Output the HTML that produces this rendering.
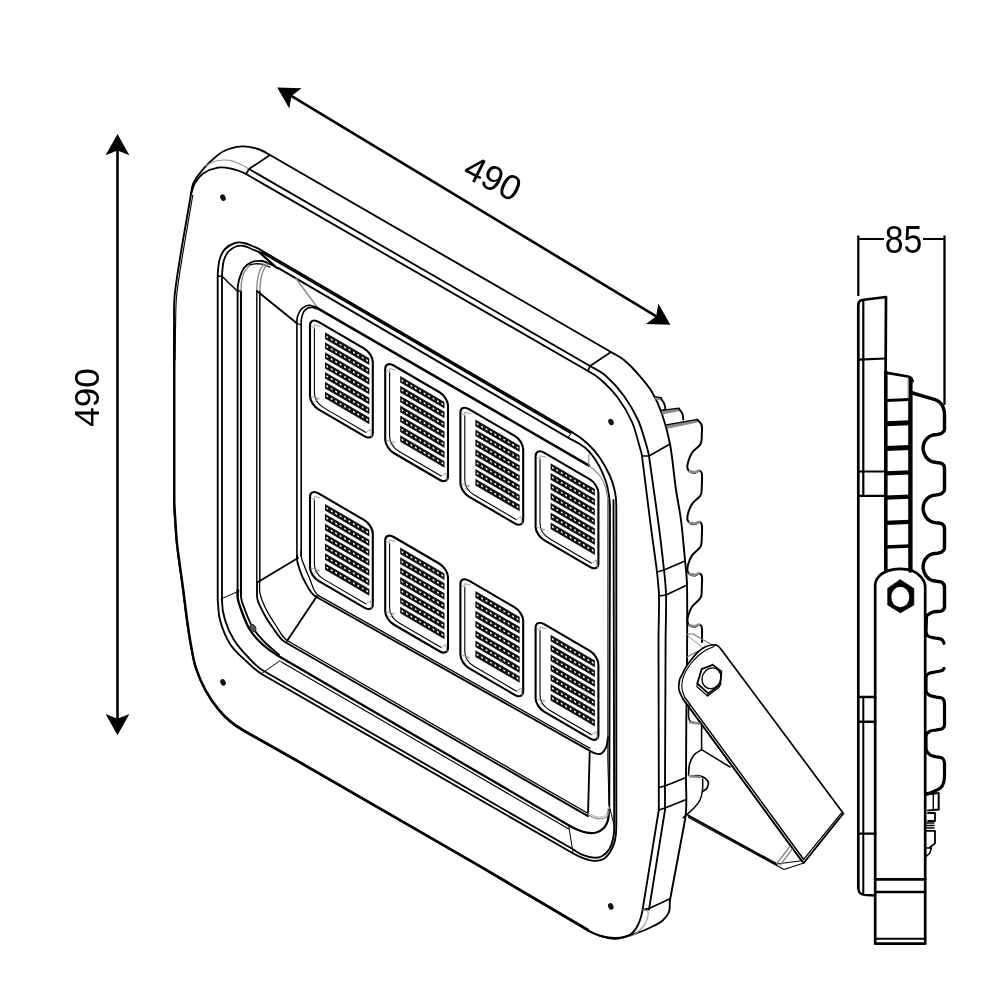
<!DOCTYPE html>
<html><head><meta charset="utf-8"><title>LED floodlight dimensions</title>
<style>
html,body{margin:0;padding:0;background:#fff;}
body{width:1001px;height:1001px;overflow:hidden;font-family:"Liberation Sans",sans-serif;}
svg{display:block;}
text{font-family:"Liberation Sans",sans-serif;fill:#000;}
svg{filter:grayscale(1);}
</style></head><body>
<svg width="1001" height="1001" viewBox="0 0 1001 1001" fill="none" stroke-linecap="round" stroke-linejoin="round">
<rect x="0" y="0" width="1001" height="1001" fill="#fff" stroke="none"/>
<path d="M117.5 150.0L117.5 719.0" stroke="#000" stroke-width="2.6" stroke-linecap="butt"/>
<path d="M117.5 134.0 L129.4 155.3 L117.5 150.6 L105.6 155.3 Z" fill="#000" stroke="none"/>
<path d="M117.5 735.3 L105.6 714.0 L117.5 718.7 L129.4 714.0 Z" fill="#000" stroke="none"/>
<text x="0" y="0" font-size="35.2" text-anchor="middle" stroke="none" transform="translate(99.3,397.5) rotate(-90)">490</text>
<path d="M289.2 94.6L658.4 317.6" stroke="#000" stroke-width="2.6" stroke-linecap="butt"/>
<path d="M277.2 87.4 L301.6 88.2 L291.4 96.0 L289.3 108.6 Z" fill="#000" stroke="none"/>
<path d="M670.4 324.8 L646.0 324.0 L656.2 316.2 L658.3 303.6 Z" fill="#000" stroke="none"/>
<text x="0" y="0" font-size="35.2" text-anchor="middle" stroke="none" transform="translate(487.3,189.0) rotate(27)">490</text>
<path d="M858.3 235.5L858.3 296.0" stroke="#000" stroke-width="2.3" stroke-linecap="butt"/>
<path d="M944.5 235.5L944.5 405.0" stroke="#000" stroke-width="2.3" stroke-linecap="butt"/>
<path d="M858.3 239.0L884.0 239.0" stroke="#000" stroke-width="2.0" stroke-linecap="butt"/>
<path d="M923.0 239.0L944.5 239.0" stroke="#000" stroke-width="2.0" stroke-linecap="butt"/>
<text x="903.6" y="252.6" font-size="39.5" text-anchor="middle" stroke="none" textLength="37.6" lengthAdjust="spacingAndGlyphs">85</text>
<path d="M174.0 330.0L174.0 500.0C174.0 506.7 174.6 513.3 175.0 520.0C175.6 528.7 176.0 537.4 177.0 546.0C178.7 560.7 181.1 575.3 183.0 590.0C184.3 600.0 185.4 610.0 186.8 620.0C188.0 628.6 189.2 637.1 190.8 645.6C192.2 653.1 193.3 660.7 195.6 668.0C198.1 675.7 201.4 683.2 205.2 690.3C208.9 697.1 213.2 703.5 218.0 709.5C221.7 714.2 226.1 718.5 230.7 722.3C235.1 726.0 240.1 729.1 245.1 731.9L300.0 763.0L480.0 866.8L587.7 930.5C591.8 932.9 596.3 934.7 600.9 936.0C605.8 937.4 610.9 939.2 616.0 938.7C623.6 938.0 630.8 935.1 638.0 932.7C642.6 931.2 647.0 929.1 651.4 927.0C655.2 925.1 659.2 923.4 662.4 920.7C665.2 918.3 667.7 915.4 669.0 912.0C670.4 908.2 669.3 903.9 670.0 900.0L685.0 820.0C687.6 805.9 685.8 791.3 686.0 777.0C686.2 758.0 686.1 739.0 686.3 720.0C686.5 701.3 686.9 682.7 687.0 664.0C687.1 637.3 687.5 610.7 687.0 584.0C686.8 576.0 685.7 568.0 685.0 560.0C683.7 546.7 682.7 533.3 681.0 520.0C679.7 509.9 677.5 500.0 676.0 490.0C673.8 474.7 672.8 459.2 670.0 444.0C668.1 433.8 665.4 423.8 662.0 414.0C659.4 406.4 656.1 398.9 652.0 392.0C648.1 385.5 643.0 379.7 638.0 374.0C633.7 369.0 629.1 364.2 624.0 360.0C620.1 356.8 615.4 354.5 611.0 352.0L270.0 155.0C266.1 152.8 262.3 150.3 258.0 149.0C252.8 147.4 247.4 146.1 242.0 146.4C235.8 146.8 229.6 148.3 224.0 151.0C218.7 153.6 214.4 158.0 210.0 162.0C206.3 165.3 203.0 169.1 200.0 173.0C197.3 176.4 194.7 180.0 193.0 184.0C191.7 187.1 191.6 190.6 191.0 194.0C185.6 226.6 179.1 259.2 175.0 292.0C173.4 304.6 174.3 317.3 174.0 330.0" stroke="#000" stroke-width="1.9" />
<path d="M174.3 330.0L174.3 500.0C174.3 506.7 174.9 513.3 175.3 520.0C175.9 528.7 176.3 537.4 177.3 546.0C179.0 560.7 181.4 575.3 183.3 590.0C184.6 600.0 185.7 610.0 187.1 620.0C188.3 628.6 189.5 637.1 191.1 645.6C192.5 653.1 193.6 660.7 196.0 668.0C198.5 675.6 201.7 683.0 205.5 690.0C209.1 696.7 213.5 703.0 218.3 709.0C222.1 713.7 226.4 718.0 231.0 721.8C235.4 725.5 240.4 728.5 245.4 731.3L300.3 762.4L480.3 866.2L588.0 929.9" stroke="#000" stroke-width="2.4" />
<path d="M192.8 195.0C187.5 227.3 181.2 259.5 177.0 292.0C175.4 304.6 175.9 317.3 175.5 330.0C175.2 340.0 175.2 350.0 175.0 360.0" stroke="#000" stroke-width="1.1" />
<path d="M191.0 194.0C192.3 190.3 192.9 186.3 195.0 183.0C197.4 179.2 200.3 175.5 204.0 173.0C208.2 170.2 213.1 168.5 218.0 167.6C221.9 166.9 226.1 167.5 230.0 168.4C235.5 169.7 241.1 171.2 246.0 174.0L588.0 371.0C592.2 373.4 596.4 375.8 600.0 379.0C606.5 384.8 612.8 391.0 618.0 398.0C623.5 405.4 628.3 413.5 632.0 422.0C635.7 430.3 637.4 439.3 640.0 448.0C640.8 450.6 641.7 453.3 642.0 456.0L650.0 520.0C652.2 537.4 654.9 554.6 657.0 572.0C657.9 580.0 658.8 588.0 659.0 596.0C659.3 610.7 658.5 625.3 658.5 640.0L658.8 787.5L658.8 810.0L642.6 909.7C641.7 915.0 640.4 920.3 638.0 925.0C636.0 928.9 633.3 932.8 629.5 935.0C625.5 937.3 620.6 937.8 616.0 938.0C610.9 938.2 605.8 937.3 600.9 936.0C596.3 934.8 592.1 932.3 587.7 930.5" stroke="#000" stroke-width="1.85" />
<path d="M249.0 169.0L590.0 366.0C595.4 369.1 601.3 371.8 606.0 376.0C612.7 381.9 618.7 388.7 624.0 396.0C629.4 403.5 634.1 411.6 638.0 420.0C641.5 427.7 643.5 435.9 646.0 444.0C647.2 447.9 648.4 451.9 649.0 456.0L658.0 520.0C660.3 536.6 662.2 553.3 664.0 570.0C664.9 578.0 665.8 586.0 666.0 594.0C666.4 609.3 665.7 624.7 665.6 640.0L665.0 787.0L665.0 810.0L649.0 909.7" stroke="#000" stroke-width="1.85" />
<path d="M246.0 174.0L249.0 169.0L270.0 155.0" stroke="#000" stroke-width="1.7" />
<path d="M588.0 371.0L590.0 366.0L611.0 352.0" stroke="#000" stroke-width="1.7" />
<path d="M642.0 456.0L649.0 456.0L670.0 444.0" stroke="#000" stroke-width="1.7" />
<path d="M657.0 572.0L664.0 570.0L685.0 561.0" stroke="#000" stroke-width="1.7" />
<path d="M659.0 596.0L666.0 595.0L687.0 585.0" stroke="#000" stroke-width="1.7" />
<path d="M658.8 787.5L665.0 786.0L686.0 777.5" stroke="#000" stroke-width="1.7" />
<path d="M658.8 810.0L665.0 808.0L685.0 800.0" stroke="#000" stroke-width="1.7" />
<path d="M642.6 909.7L649.0 908.6L670.0 898.7" stroke="#000" stroke-width="1.7" />
<path d="M205.0 166.0C208.7 164.3 212.1 161.9 216.0 161.0C220.6 160.0 225.4 159.6 230.0 160.4C234.9 161.3 239.4 163.9 244.0 166.0C245.4 166.6 246.7 167.7 248.0 168.5" stroke="#999" stroke-width="1.1" />
<path d="M642.6 909.7C644.4 910.3 647.5 909.7 648.0 911.5C648.9 914.9 647.5 918.8 646.0 922.0C644.4 925.5 641.7 928.4 639.0 931.0C636.9 933.1 634.1 934.3 631.6 936.0" stroke="#999" stroke-width="1.1" />
<ellipse cx="223.0" cy="197.6" rx="2.6" ry="3.4" fill="#111" stroke="none" transform="rotate(-25 223.0 197.6)"/>
<ellipse cx="611.0" cy="422.0" rx="2.6" ry="3.4" fill="#111" stroke="none" transform="rotate(-25 611.0 422.0)"/>
<ellipse cx="223.0" cy="682.4" rx="2.6" ry="3.4" fill="#111" stroke="none" transform="rotate(-25 223.0 682.4)"/>
<ellipse cx="610.8" cy="906.4" rx="2.6" ry="3.4" fill="#111" stroke="none" transform="rotate(-25 610.8 906.4)"/>
<path d="M217.7 600.0L217.7 276.0C217.7 273.3 217.9 270.7 218.2 268.0C218.6 264.6 218.9 261.2 220.0 258.0C221.2 254.8 222.6 251.4 225.0 249.0C227.7 246.3 231.3 244.2 235.0 243.0C237.9 242.1 241.1 242.4 244.0 243.0C247.8 243.8 251.4 245.7 255.0 247.2L258.0 248.4L572.0 432.1C577.7 435.5 583.1 439.5 588.0 444.0C592.5 448.2 596.5 452.9 600.0 458.0C603.9 463.7 607.2 469.7 610.0 476.0C612.3 481.1 613.9 486.5 615.0 492.0C616.0 496.6 616.3 501.3 616.3 506.0L616.3 826.0C616.3 830.8 616.0 835.6 615.0 840.3C614.2 844.1 612.7 847.7 610.7 851.0C608.8 854.1 606.6 857.2 603.5 859.0C600.7 860.6 597.2 861.1 594.0 860.9C589.9 860.7 585.9 859.1 582.0 857.7C578.7 856.5 575.5 854.8 572.4 853.0L262.0 674.2C256.0 670.8 251.0 665.7 246.0 661.0C240.3 655.7 234.2 650.6 230.0 644.0C225.4 636.7 222.3 628.3 220.0 620.0C218.2 613.5 218.5 606.7 217.7 600.0" stroke="#000" stroke-width="1.85" />
<path d="M222.0 600.0L222.0 276.5C222.0 273.7 222.3 270.8 222.6 268.0C222.9 265.3 223.1 262.6 224.0 260.0C225.0 257.2 226.0 254.2 228.0 252.0C230.1 249.6 233.0 247.6 236.0 246.5C238.5 245.6 241.4 245.5 244.0 246.0C247.5 246.7 250.7 248.7 254.0 250.0C256.7 251.1 259.3 252.1 262.0 253.2" stroke="#000" stroke-width="1.85" />
<path d="M262.0 252.6L570.0 432.8" stroke="#000" stroke-width="1.85" />
<path d="M278.0 267.9L568.0 437.6C574.1 441.1 580.7 443.9 586.0 448.5C590.9 452.8 594.7 458.4 598.0 464.0C601.4 469.6 603.9 475.8 606.0 482.0C607.6 486.5 608.3 491.3 609.0 496.0C609.6 500.0 610.0 504.0 610.0 508.0L609.3 806.0" stroke="#000" stroke-width="1.85" />
<path d="M608.0 500.0L607.8 760.0L609.0 804.0" stroke="#000" stroke-width="1.0" />
<path d="M259.0 252.0L275.5 266.8" stroke="#000" stroke-width="2.2" />
<path d="M572.0 432.1L568.0 437.6" stroke="#000" stroke-width="1.0" />
<path d="M222.0 600.0L222.0 601.0C222.0 607.4 223.1 613.9 225.0 620.0C227.1 627.0 230.1 633.8 234.0 640.0C237.9 646.2 242.9 651.7 248.0 657.0C252.6 661.9 257.2 667.1 263.0 670.5L573.0 849.3C576.0 851.1 578.8 853.4 582.0 854.7C585.8 856.2 589.9 857.4 594.0 857.7C596.8 857.9 599.9 857.4 602.3 856.0C605.3 854.3 607.7 851.6 609.5 848.7C611.3 845.8 612.3 842.4 613.0 839.0C613.9 835.1 614.2 831.0 614.2 827.0L613.5 500.0" stroke="#000" stroke-width="1.85" />
<path d="M609.5 806.8L614.3 826.0" stroke="#000" stroke-width="1.0" />
<path d="M221.0 599.0L239.0 591.0" stroke="#000" stroke-width="1.0" />
<path d="M262.0 673.2L280.0 660.7" stroke="#000" stroke-width="1.0" />
<path d="M217.7 276.0L222.3 276.5L237.2 291.0L240.5 291.0" stroke="#000" stroke-width="1.4" />
<path d="M237.6 596.0L237.6 290.0C237.6 286.6 238.1 283.2 239.0 280.0C240.2 275.8 241.5 271.5 244.0 268.0C246.0 265.3 248.9 263.2 252.0 262.0C255.1 260.8 258.7 260.6 262.0 261.0C264.8 261.3 267.4 262.8 270.0 264.0C272.8 265.3 275.3 267.0 278.0 268.5" stroke="#000" stroke-width="1.85" />
<path d="M241.0 594.0L241.0 291.0" stroke="#000" stroke-width="2.1" />
<path d="M241.0 291.0C241.2 288.0 241.1 285.0 241.6 282.0C242.2 278.6 242.8 275.1 244.3 272.0C245.6 269.2 248.1 267.2 250.0 264.8" stroke="#888" stroke-width="1.4" />
<path d="M250.0 264.8C251.7 264.5 253.3 263.9 255.0 263.8C257.3 263.7 259.7 263.7 262.0 264.2C264.8 264.8 267.3 266.1 270.0 267.0" stroke="#000" stroke-width="1.3" />
<path d="M237.6 590.0L237.6 596.0C237.6 601.5 240.1 606.8 242.0 612.0C244.2 618.2 246.5 624.4 250.0 630.0C253.3 635.2 257.5 639.8 262.0 644.0C266.9 648.5 272.3 652.3 278.0 655.7L570.0 825.9C572.3 827.2 574.6 828.5 577.0 829.5C580.2 830.8 583.3 832.2 586.7 832.7C589.9 833.2 593.2 833.3 596.3 832.5C599.0 831.8 601.5 830.3 603.5 828.3C605.5 826.3 606.9 823.7 607.7 821.0C608.8 817.5 608.6 813.7 609.0 810.0" stroke="#000" stroke-width="2.3" />
<path d="M241.0 590.0L241.0 596.0C241.0 600.9 243.3 605.5 245.0 610.0C247.3 616.1 249.6 622.4 253.0 628.0C256.0 633.0 259.9 637.3 264.0 641.5C268.6 646.3 274.0 650.3 279.0 654.7" stroke="#000" stroke-width="1.85" />
<path d="M281.0 661.7L568.8 828.9" stroke="#000" stroke-width="1.1" />
<path d="M568.8 826.5L573.0 852.3" stroke="#000" stroke-width="1.0" />
<ellipse cx="253" cy="628" rx="2.6" ry="4" fill="#555" stroke="#222" stroke-width="0.8" transform="rotate(-25 253 628)"/>
<path d="M256.8 582.0L256.8 291.0" stroke="#000" stroke-width="1.4" />
<path d="M256.8 291.0C257.0 287.3 256.9 283.6 257.5 280.0C258.0 276.6 258.7 273.2 260.0 270.0C260.9 267.8 262.7 266.0 264.0 264.0" stroke="#888" stroke-width="1.4" />
<path d="M259.8 582.0L259.8 291.0" stroke="#000" stroke-width="1.5" />
<path d="M259.8 291.0C260.2 286.7 260.2 282.3 261.0 278.0C261.6 274.9 262.6 271.8 264.0 269.0C265.0 267.1 266.7 265.7 268.0 264.0" stroke="#888" stroke-width="1.4" />
<path d="M257.0 582.0L257.0 596.0C257.0 601.7 260.5 606.9 263.0 612.0C265.8 617.6 269.3 622.9 273.0 628.0C276.6 633.0 279.7 639.0 285.0 642.0L588.0 816.1" stroke="#000" stroke-width="1.85" />
<path d="M259.6 582.0L259.6 590.0C259.6 595.9 262.5 601.6 265.0 607.0C267.7 613.0 271.3 618.6 275.0 624.0C279.0 629.9 281.8 637.4 288.0 641.0L587.0 812.8" stroke="#000" stroke-width="1.3" />
<path d="M589.7 752.5L588.0 814.6" stroke="#000" stroke-width="1.85" />
<path d="M588.0 814.6C590.0 815.6 591.9 816.9 594.0 817.6C596.3 818.3 598.6 819.0 601.0 818.8C603.1 818.6 605.6 818.0 607.0 816.4C608.5 814.7 608.3 812.1 609.0 810.0" stroke="#888" stroke-width="1.1" />
<path d="M588.0 813.0C590.0 814.0 591.9 815.3 594.0 816.0C596.3 816.7 598.7 817.3 601.0 817.0C602.8 816.8 604.9 816.0 606.0 814.5C607.4 812.7 607.3 810.2 608.0 808.0" stroke="#aaa" stroke-width="0.9" />
<path d="M257.0 291.0L296.5 323.0" stroke="#000" stroke-width="1.85" />
<path d="M258.0 582.0L298.0 558.0" stroke="#000" stroke-width="1.85" />
<path d="M287.0 641.0L317.0 596.0" stroke="#000" stroke-width="1.85" />
<path d="M296.0 278.5L317.0 307.0" stroke="#888" stroke-width="1.4" />
<path d="M296.9 558.0L296.9 322.8C296.9 320.7 296.9 318.5 297.5 316.5C298.3 314.0 299.4 311.5 301.0 309.5C302.3 307.9 304.1 306.8 305.9 306.0C307.2 305.4 308.6 305.2 310.0 305.3C311.7 305.5 313.4 306.3 315.0 306.9L318.0 308.0" stroke="#000" stroke-width="1.6" />
<path d="M316.0 307.3L589.0 465.6" stroke="#000" stroke-width="2.5" />
<path d="M301.2 556.0L301.2 324.2C301.2 322.3 301.1 320.4 301.5 318.6C302.0 316.2 302.5 313.7 303.8 311.6C304.8 310.0 306.4 308.8 308.0 308.0C309.3 307.4 310.8 307.3 312.2 307.4C313.7 307.5 315.0 308.3 316.4 308.8" stroke="#000" stroke-width="1.6" />
<path d="M296.0 323.0L301.3 325.0" stroke="#000" stroke-width="1.2" />
<path d="M296.9 556.0L296.9 558.0C296.9 560.7 297.7 563.4 298.5 566.0C300.0 570.8 301.5 575.6 304.0 580.0C307.4 586.0 310.0 593.4 316.0 596.8L590.0 750.9C593.0 752.6 596.6 754.7 600.0 754.0C602.9 753.4 604.7 750.2 606.0 747.5C607.5 744.4 607.3 740.8 608.0 737.5" stroke="#000" stroke-width="1.85" />
<path d="M301.2 550.0L301.2 556.0C301.2 559.1 302.9 562.1 304.0 565.0C305.5 569.1 307.1 573.1 309.0 577.0C312.1 583.4 312.8 592.4 319.0 595.9L590.0 748.3" stroke="#000" stroke-width="1.3" />
<path d="M589.0 454.0C589.0 457.9 588.2 461.8 589.0 465.6C589.3 466.9 591.1 467.1 592.0 468.0C594.7 470.6 597.8 472.9 600.0 476.0C602.2 479.0 603.8 482.5 605.0 486.0C606.5 490.5 607.0 495.3 608.0 500.0" stroke="#888" stroke-width="1.1" />
<g transform="matrix(1 0.585 0 1 310.0 316.9)"><rect x="0" y="0" width="62.8" height="87.5" rx="8.5" ry="8.5" stroke="#000" stroke-width="2.1" vector-effect="non-scaling-stroke"/><path d="M4.4 9 L4.4 73 Q4.4 82.8 14 82.8 L56 82.8" stroke="#000" stroke-width="1.1" vector-effect="non-scaling-stroke"/><path d="M1 8 L4.4 9.5 L4.4 5.5 L10 3.5 M1 79 L9 76.5 M4.4 82.5 L9 76.5 M56 82.8 L60.5 77 L62 84" stroke="#999" stroke-width="0.9" vector-effect="non-scaling-stroke"/><line x1="15.0" y1="10.00" x2="59.3" y2="10.00" stroke="#111" stroke-width="6.6" stroke-linecap="butt"/><line x1="16.4" y1="10.00" x2="59.5" y2="10.00" stroke="#fff" stroke-width="1.7" stroke-dasharray="1.7 2.73" stroke-linecap="butt"/><line x1="15.0" y1="19.88" x2="59.3" y2="19.88" stroke="#111" stroke-width="6.6" stroke-linecap="butt"/><line x1="16.4" y1="19.88" x2="59.5" y2="19.88" stroke="#fff" stroke-width="1.7" stroke-dasharray="1.7 2.73" stroke-linecap="butt"/><line x1="15.0" y1="29.76" x2="59.3" y2="29.76" stroke="#111" stroke-width="6.6" stroke-linecap="butt"/><line x1="16.4" y1="29.76" x2="59.5" y2="29.76" stroke="#fff" stroke-width="1.7" stroke-dasharray="1.7 2.73" stroke-linecap="butt"/><line x1="15.0" y1="39.64" x2="59.3" y2="39.64" stroke="#111" stroke-width="6.6" stroke-linecap="butt"/><line x1="16.4" y1="39.64" x2="59.5" y2="39.64" stroke="#fff" stroke-width="1.7" stroke-dasharray="1.7 2.73" stroke-linecap="butt"/><line x1="15.0" y1="49.52" x2="59.3" y2="49.52" stroke="#111" stroke-width="6.6" stroke-linecap="butt"/><line x1="16.4" y1="49.52" x2="59.5" y2="49.52" stroke="#fff" stroke-width="1.7" stroke-dasharray="1.7 2.73" stroke-linecap="butt"/><line x1="15.0" y1="59.40" x2="59.3" y2="59.40" stroke="#111" stroke-width="6.6" stroke-linecap="butt"/><line x1="16.4" y1="59.40" x2="59.5" y2="59.40" stroke="#fff" stroke-width="1.7" stroke-dasharray="1.7 2.73" stroke-linecap="butt"/><line x1="15.0" y1="69.28" x2="59.3" y2="69.28" stroke="#111" stroke-width="6.6" stroke-linecap="butt"/><line x1="16.4" y1="69.28" x2="59.5" y2="69.28" stroke="#fff" stroke-width="1.7" stroke-dasharray="1.7 2.73" stroke-linecap="butt"/></g>
<g transform="matrix(1 0.585 0 1 385.2 360.5)"><rect x="0" y="0" width="62.8" height="87.5" rx="8.5" ry="8.5" stroke="#000" stroke-width="2.1" vector-effect="non-scaling-stroke"/><path d="M4.4 9 L4.4 73 Q4.4 82.8 14 82.8 L56 82.8" stroke="#000" stroke-width="1.1" vector-effect="non-scaling-stroke"/><path d="M1 8 L4.4 9.5 L4.4 5.5 L10 3.5 M1 79 L9 76.5 M4.4 82.5 L9 76.5 M56 82.8 L60.5 77 L62 84" stroke="#999" stroke-width="0.9" vector-effect="non-scaling-stroke"/><line x1="15.0" y1="10.00" x2="59.3" y2="10.00" stroke="#111" stroke-width="6.6" stroke-linecap="butt"/><line x1="16.4" y1="10.00" x2="59.5" y2="10.00" stroke="#fff" stroke-width="1.7" stroke-dasharray="1.7 2.73" stroke-linecap="butt"/><line x1="15.0" y1="19.88" x2="59.3" y2="19.88" stroke="#111" stroke-width="6.6" stroke-linecap="butt"/><line x1="16.4" y1="19.88" x2="59.5" y2="19.88" stroke="#fff" stroke-width="1.7" stroke-dasharray="1.7 2.73" stroke-linecap="butt"/><line x1="15.0" y1="29.76" x2="59.3" y2="29.76" stroke="#111" stroke-width="6.6" stroke-linecap="butt"/><line x1="16.4" y1="29.76" x2="59.5" y2="29.76" stroke="#fff" stroke-width="1.7" stroke-dasharray="1.7 2.73" stroke-linecap="butt"/><line x1="15.0" y1="39.64" x2="59.3" y2="39.64" stroke="#111" stroke-width="6.6" stroke-linecap="butt"/><line x1="16.4" y1="39.64" x2="59.5" y2="39.64" stroke="#fff" stroke-width="1.7" stroke-dasharray="1.7 2.73" stroke-linecap="butt"/><line x1="15.0" y1="49.52" x2="59.3" y2="49.52" stroke="#111" stroke-width="6.6" stroke-linecap="butt"/><line x1="16.4" y1="49.52" x2="59.5" y2="49.52" stroke="#fff" stroke-width="1.7" stroke-dasharray="1.7 2.73" stroke-linecap="butt"/><line x1="15.0" y1="59.40" x2="59.3" y2="59.40" stroke="#111" stroke-width="6.6" stroke-linecap="butt"/><line x1="16.4" y1="59.40" x2="59.5" y2="59.40" stroke="#fff" stroke-width="1.7" stroke-dasharray="1.7 2.73" stroke-linecap="butt"/><line x1="15.0" y1="69.28" x2="59.3" y2="69.28" stroke="#111" stroke-width="6.6" stroke-linecap="butt"/><line x1="16.4" y1="69.28" x2="59.5" y2="69.28" stroke="#fff" stroke-width="1.7" stroke-dasharray="1.7 2.73" stroke-linecap="butt"/></g>
<g transform="matrix(1 0.585 0 1 460.4 404.1)"><rect x="0" y="0" width="62.8" height="87.5" rx="8.5" ry="8.5" stroke="#000" stroke-width="2.1" vector-effect="non-scaling-stroke"/><path d="M4.4 9 L4.4 73 Q4.4 82.8 14 82.8 L56 82.8" stroke="#000" stroke-width="1.1" vector-effect="non-scaling-stroke"/><path d="M1 8 L4.4 9.5 L4.4 5.5 L10 3.5 M1 79 L9 76.5 M4.4 82.5 L9 76.5 M56 82.8 L60.5 77 L62 84" stroke="#999" stroke-width="0.9" vector-effect="non-scaling-stroke"/><line x1="15.0" y1="10.00" x2="59.3" y2="10.00" stroke="#111" stroke-width="6.6" stroke-linecap="butt"/><line x1="16.4" y1="10.00" x2="59.5" y2="10.00" stroke="#fff" stroke-width="1.7" stroke-dasharray="1.7 2.73" stroke-linecap="butt"/><line x1="15.0" y1="19.88" x2="59.3" y2="19.88" stroke="#111" stroke-width="6.6" stroke-linecap="butt"/><line x1="16.4" y1="19.88" x2="59.5" y2="19.88" stroke="#fff" stroke-width="1.7" stroke-dasharray="1.7 2.73" stroke-linecap="butt"/><line x1="15.0" y1="29.76" x2="59.3" y2="29.76" stroke="#111" stroke-width="6.6" stroke-linecap="butt"/><line x1="16.4" y1="29.76" x2="59.5" y2="29.76" stroke="#fff" stroke-width="1.7" stroke-dasharray="1.7 2.73" stroke-linecap="butt"/><line x1="15.0" y1="39.64" x2="59.3" y2="39.64" stroke="#111" stroke-width="6.6" stroke-linecap="butt"/><line x1="16.4" y1="39.64" x2="59.5" y2="39.64" stroke="#fff" stroke-width="1.7" stroke-dasharray="1.7 2.73" stroke-linecap="butt"/><line x1="15.0" y1="49.52" x2="59.3" y2="49.52" stroke="#111" stroke-width="6.6" stroke-linecap="butt"/><line x1="16.4" y1="49.52" x2="59.5" y2="49.52" stroke="#fff" stroke-width="1.7" stroke-dasharray="1.7 2.73" stroke-linecap="butt"/><line x1="15.0" y1="59.40" x2="59.3" y2="59.40" stroke="#111" stroke-width="6.6" stroke-linecap="butt"/><line x1="16.4" y1="59.40" x2="59.5" y2="59.40" stroke="#fff" stroke-width="1.7" stroke-dasharray="1.7 2.73" stroke-linecap="butt"/><line x1="15.0" y1="69.28" x2="59.3" y2="69.28" stroke="#111" stroke-width="6.6" stroke-linecap="butt"/><line x1="16.4" y1="69.28" x2="59.5" y2="69.28" stroke="#fff" stroke-width="1.7" stroke-dasharray="1.7 2.73" stroke-linecap="butt"/></g>
<g transform="matrix(1 0.585 0 1 535.6 447.7)"><rect x="0" y="0" width="62.8" height="87.5" rx="8.5" ry="8.5" stroke="#000" stroke-width="2.1" vector-effect="non-scaling-stroke"/><path d="M4.4 9 L4.4 73 Q4.4 82.8 14 82.8 L56 82.8" stroke="#000" stroke-width="1.1" vector-effect="non-scaling-stroke"/><path d="M1 8 L4.4 9.5 L4.4 5.5 L10 3.5 M1 79 L9 76.5 M4.4 82.5 L9 76.5 M56 82.8 L60.5 77 L62 84" stroke="#999" stroke-width="0.9" vector-effect="non-scaling-stroke"/><line x1="15.0" y1="10.00" x2="59.3" y2="10.00" stroke="#111" stroke-width="6.6" stroke-linecap="butt"/><line x1="16.4" y1="10.00" x2="59.5" y2="10.00" stroke="#fff" stroke-width="1.7" stroke-dasharray="1.7 2.73" stroke-linecap="butt"/><line x1="15.0" y1="19.88" x2="59.3" y2="19.88" stroke="#111" stroke-width="6.6" stroke-linecap="butt"/><line x1="16.4" y1="19.88" x2="59.5" y2="19.88" stroke="#fff" stroke-width="1.7" stroke-dasharray="1.7 2.73" stroke-linecap="butt"/><line x1="15.0" y1="29.76" x2="59.3" y2="29.76" stroke="#111" stroke-width="6.6" stroke-linecap="butt"/><line x1="16.4" y1="29.76" x2="59.5" y2="29.76" stroke="#fff" stroke-width="1.7" stroke-dasharray="1.7 2.73" stroke-linecap="butt"/><line x1="15.0" y1="39.64" x2="59.3" y2="39.64" stroke="#111" stroke-width="6.6" stroke-linecap="butt"/><line x1="16.4" y1="39.64" x2="59.5" y2="39.64" stroke="#fff" stroke-width="1.7" stroke-dasharray="1.7 2.73" stroke-linecap="butt"/><line x1="15.0" y1="49.52" x2="59.3" y2="49.52" stroke="#111" stroke-width="6.6" stroke-linecap="butt"/><line x1="16.4" y1="49.52" x2="59.5" y2="49.52" stroke="#fff" stroke-width="1.7" stroke-dasharray="1.7 2.73" stroke-linecap="butt"/><line x1="15.0" y1="59.40" x2="59.3" y2="59.40" stroke="#111" stroke-width="6.6" stroke-linecap="butt"/><line x1="16.4" y1="59.40" x2="59.5" y2="59.40" stroke="#fff" stroke-width="1.7" stroke-dasharray="1.7 2.73" stroke-linecap="butt"/><line x1="15.0" y1="69.28" x2="59.3" y2="69.28" stroke="#111" stroke-width="6.6" stroke-linecap="butt"/><line x1="16.4" y1="69.28" x2="59.5" y2="69.28" stroke="#fff" stroke-width="1.7" stroke-dasharray="1.7 2.73" stroke-linecap="butt"/></g>
<g transform="matrix(1 0.585 0 1 310.0 488.4)"><rect x="0" y="0" width="62.8" height="87.5" rx="8.5" ry="8.5" stroke="#000" stroke-width="2.1" vector-effect="non-scaling-stroke"/><path d="M4.4 9 L4.4 73 Q4.4 82.8 14 82.8 L56 82.8" stroke="#000" stroke-width="1.1" vector-effect="non-scaling-stroke"/><path d="M1 8 L4.4 9.5 L4.4 5.5 L10 3.5 M1 79 L9 76.5 M4.4 82.5 L9 76.5 M56 82.8 L60.5 77 L62 84" stroke="#999" stroke-width="0.9" vector-effect="non-scaling-stroke"/><line x1="15.0" y1="10.00" x2="59.3" y2="10.00" stroke="#111" stroke-width="6.6" stroke-linecap="butt"/><line x1="16.4" y1="10.00" x2="59.5" y2="10.00" stroke="#fff" stroke-width="1.7" stroke-dasharray="1.7 2.73" stroke-linecap="butt"/><line x1="15.0" y1="19.88" x2="59.3" y2="19.88" stroke="#111" stroke-width="6.6" stroke-linecap="butt"/><line x1="16.4" y1="19.88" x2="59.5" y2="19.88" stroke="#fff" stroke-width="1.7" stroke-dasharray="1.7 2.73" stroke-linecap="butt"/><line x1="15.0" y1="29.76" x2="59.3" y2="29.76" stroke="#111" stroke-width="6.6" stroke-linecap="butt"/><line x1="16.4" y1="29.76" x2="59.5" y2="29.76" stroke="#fff" stroke-width="1.7" stroke-dasharray="1.7 2.73" stroke-linecap="butt"/><line x1="15.0" y1="39.64" x2="59.3" y2="39.64" stroke="#111" stroke-width="6.6" stroke-linecap="butt"/><line x1="16.4" y1="39.64" x2="59.5" y2="39.64" stroke="#fff" stroke-width="1.7" stroke-dasharray="1.7 2.73" stroke-linecap="butt"/><line x1="15.0" y1="49.52" x2="59.3" y2="49.52" stroke="#111" stroke-width="6.6" stroke-linecap="butt"/><line x1="16.4" y1="49.52" x2="59.5" y2="49.52" stroke="#fff" stroke-width="1.7" stroke-dasharray="1.7 2.73" stroke-linecap="butt"/><line x1="15.0" y1="59.40" x2="59.3" y2="59.40" stroke="#111" stroke-width="6.6" stroke-linecap="butt"/><line x1="16.4" y1="59.40" x2="59.5" y2="59.40" stroke="#fff" stroke-width="1.7" stroke-dasharray="1.7 2.73" stroke-linecap="butt"/><line x1="15.0" y1="69.28" x2="59.3" y2="69.28" stroke="#111" stroke-width="6.6" stroke-linecap="butt"/><line x1="16.4" y1="69.28" x2="59.5" y2="69.28" stroke="#fff" stroke-width="1.7" stroke-dasharray="1.7 2.73" stroke-linecap="butt"/></g>
<g transform="matrix(1 0.585 0 1 385.2 532.0)"><rect x="0" y="0" width="62.8" height="87.5" rx="8.5" ry="8.5" stroke="#000" stroke-width="2.1" vector-effect="non-scaling-stroke"/><path d="M4.4 9 L4.4 73 Q4.4 82.8 14 82.8 L56 82.8" stroke="#000" stroke-width="1.1" vector-effect="non-scaling-stroke"/><path d="M1 8 L4.4 9.5 L4.4 5.5 L10 3.5 M1 79 L9 76.5 M4.4 82.5 L9 76.5 M56 82.8 L60.5 77 L62 84" stroke="#999" stroke-width="0.9" vector-effect="non-scaling-stroke"/><line x1="15.0" y1="10.00" x2="59.3" y2="10.00" stroke="#111" stroke-width="6.6" stroke-linecap="butt"/><line x1="16.4" y1="10.00" x2="59.5" y2="10.00" stroke="#fff" stroke-width="1.7" stroke-dasharray="1.7 2.73" stroke-linecap="butt"/><line x1="15.0" y1="19.88" x2="59.3" y2="19.88" stroke="#111" stroke-width="6.6" stroke-linecap="butt"/><line x1="16.4" y1="19.88" x2="59.5" y2="19.88" stroke="#fff" stroke-width="1.7" stroke-dasharray="1.7 2.73" stroke-linecap="butt"/><line x1="15.0" y1="29.76" x2="59.3" y2="29.76" stroke="#111" stroke-width="6.6" stroke-linecap="butt"/><line x1="16.4" y1="29.76" x2="59.5" y2="29.76" stroke="#fff" stroke-width="1.7" stroke-dasharray="1.7 2.73" stroke-linecap="butt"/><line x1="15.0" y1="39.64" x2="59.3" y2="39.64" stroke="#111" stroke-width="6.6" stroke-linecap="butt"/><line x1="16.4" y1="39.64" x2="59.5" y2="39.64" stroke="#fff" stroke-width="1.7" stroke-dasharray="1.7 2.73" stroke-linecap="butt"/><line x1="15.0" y1="49.52" x2="59.3" y2="49.52" stroke="#111" stroke-width="6.6" stroke-linecap="butt"/><line x1="16.4" y1="49.52" x2="59.5" y2="49.52" stroke="#fff" stroke-width="1.7" stroke-dasharray="1.7 2.73" stroke-linecap="butt"/><line x1="15.0" y1="59.40" x2="59.3" y2="59.40" stroke="#111" stroke-width="6.6" stroke-linecap="butt"/><line x1="16.4" y1="59.40" x2="59.5" y2="59.40" stroke="#fff" stroke-width="1.7" stroke-dasharray="1.7 2.73" stroke-linecap="butt"/><line x1="15.0" y1="69.28" x2="59.3" y2="69.28" stroke="#111" stroke-width="6.6" stroke-linecap="butt"/><line x1="16.4" y1="69.28" x2="59.5" y2="69.28" stroke="#fff" stroke-width="1.7" stroke-dasharray="1.7 2.73" stroke-linecap="butt"/></g>
<g transform="matrix(1 0.585 0 1 460.4 575.6)"><rect x="0" y="0" width="62.8" height="87.5" rx="8.5" ry="8.5" stroke="#000" stroke-width="2.1" vector-effect="non-scaling-stroke"/><path d="M4.4 9 L4.4 73 Q4.4 82.8 14 82.8 L56 82.8" stroke="#000" stroke-width="1.1" vector-effect="non-scaling-stroke"/><path d="M1 8 L4.4 9.5 L4.4 5.5 L10 3.5 M1 79 L9 76.5 M4.4 82.5 L9 76.5 M56 82.8 L60.5 77 L62 84" stroke="#999" stroke-width="0.9" vector-effect="non-scaling-stroke"/><line x1="15.0" y1="10.00" x2="59.3" y2="10.00" stroke="#111" stroke-width="6.6" stroke-linecap="butt"/><line x1="16.4" y1="10.00" x2="59.5" y2="10.00" stroke="#fff" stroke-width="1.7" stroke-dasharray="1.7 2.73" stroke-linecap="butt"/><line x1="15.0" y1="19.88" x2="59.3" y2="19.88" stroke="#111" stroke-width="6.6" stroke-linecap="butt"/><line x1="16.4" y1="19.88" x2="59.5" y2="19.88" stroke="#fff" stroke-width="1.7" stroke-dasharray="1.7 2.73" stroke-linecap="butt"/><line x1="15.0" y1="29.76" x2="59.3" y2="29.76" stroke="#111" stroke-width="6.6" stroke-linecap="butt"/><line x1="16.4" y1="29.76" x2="59.5" y2="29.76" stroke="#fff" stroke-width="1.7" stroke-dasharray="1.7 2.73" stroke-linecap="butt"/><line x1="15.0" y1="39.64" x2="59.3" y2="39.64" stroke="#111" stroke-width="6.6" stroke-linecap="butt"/><line x1="16.4" y1="39.64" x2="59.5" y2="39.64" stroke="#fff" stroke-width="1.7" stroke-dasharray="1.7 2.73" stroke-linecap="butt"/><line x1="15.0" y1="49.52" x2="59.3" y2="49.52" stroke="#111" stroke-width="6.6" stroke-linecap="butt"/><line x1="16.4" y1="49.52" x2="59.5" y2="49.52" stroke="#fff" stroke-width="1.7" stroke-dasharray="1.7 2.73" stroke-linecap="butt"/><line x1="15.0" y1="59.40" x2="59.3" y2="59.40" stroke="#111" stroke-width="6.6" stroke-linecap="butt"/><line x1="16.4" y1="59.40" x2="59.5" y2="59.40" stroke="#fff" stroke-width="1.7" stroke-dasharray="1.7 2.73" stroke-linecap="butt"/><line x1="15.0" y1="69.28" x2="59.3" y2="69.28" stroke="#111" stroke-width="6.6" stroke-linecap="butt"/><line x1="16.4" y1="69.28" x2="59.5" y2="69.28" stroke="#fff" stroke-width="1.7" stroke-dasharray="1.7 2.73" stroke-linecap="butt"/></g>
<g transform="matrix(1 0.585 0 1 535.6 619.2)"><rect x="0" y="0" width="62.8" height="87.5" rx="8.5" ry="8.5" stroke="#000" stroke-width="2.1" vector-effect="non-scaling-stroke"/><path d="M4.4 9 L4.4 73 Q4.4 82.8 14 82.8 L56 82.8" stroke="#000" stroke-width="1.1" vector-effect="non-scaling-stroke"/><path d="M1 8 L4.4 9.5 L4.4 5.5 L10 3.5 M1 79 L9 76.5 M4.4 82.5 L9 76.5 M56 82.8 L60.5 77 L62 84" stroke="#999" stroke-width="0.9" vector-effect="non-scaling-stroke"/><line x1="15.0" y1="10.00" x2="59.3" y2="10.00" stroke="#111" stroke-width="6.6" stroke-linecap="butt"/><line x1="16.4" y1="10.00" x2="59.5" y2="10.00" stroke="#fff" stroke-width="1.7" stroke-dasharray="1.7 2.73" stroke-linecap="butt"/><line x1="15.0" y1="19.88" x2="59.3" y2="19.88" stroke="#111" stroke-width="6.6" stroke-linecap="butt"/><line x1="16.4" y1="19.88" x2="59.5" y2="19.88" stroke="#fff" stroke-width="1.7" stroke-dasharray="1.7 2.73" stroke-linecap="butt"/><line x1="15.0" y1="29.76" x2="59.3" y2="29.76" stroke="#111" stroke-width="6.6" stroke-linecap="butt"/><line x1="16.4" y1="29.76" x2="59.5" y2="29.76" stroke="#fff" stroke-width="1.7" stroke-dasharray="1.7 2.73" stroke-linecap="butt"/><line x1="15.0" y1="39.64" x2="59.3" y2="39.64" stroke="#111" stroke-width="6.6" stroke-linecap="butt"/><line x1="16.4" y1="39.64" x2="59.5" y2="39.64" stroke="#fff" stroke-width="1.7" stroke-dasharray="1.7 2.73" stroke-linecap="butt"/><line x1="15.0" y1="49.52" x2="59.3" y2="49.52" stroke="#111" stroke-width="6.6" stroke-linecap="butt"/><line x1="16.4" y1="49.52" x2="59.5" y2="49.52" stroke="#fff" stroke-width="1.7" stroke-dasharray="1.7 2.73" stroke-linecap="butt"/><line x1="15.0" y1="59.40" x2="59.3" y2="59.40" stroke="#111" stroke-width="6.6" stroke-linecap="butt"/><line x1="16.4" y1="59.40" x2="59.5" y2="59.40" stroke="#fff" stroke-width="1.7" stroke-dasharray="1.7 2.73" stroke-linecap="butt"/><line x1="15.0" y1="69.28" x2="59.3" y2="69.28" stroke="#111" stroke-width="6.6" stroke-linecap="butt"/><line x1="16.4" y1="69.28" x2="59.5" y2="69.28" stroke="#fff" stroke-width="1.7" stroke-dasharray="1.7 2.73" stroke-linecap="butt"/></g>
<path d="M654.0 396.6L661.5 397.6L662.0 400.6L655.5 399.8Z" fill="#8a8a8a" stroke="none"/>
<path d="M654.0 396.6L661.5 397.6" stroke="#000" stroke-width="1.2" />
<path d="M661.2 398.8C662.1 400.3 663.3 401.6 664.0 403.2C664.7 405.0 665.4 406.9 665.3 408.8C665.2 409.6 664.1 409.9 663.5 410.5" stroke="#000" stroke-width="1.9" />
<path d="M661.2 410.6L679.2 408.2L680.2 411.0L662.2 414.4Z" fill="#8a8a8a" stroke="none"/>
<path d="M661.2 410.4L679.2 408.2" stroke="#000" stroke-width="1.2" />
<path d="M679.2 409.0C680.3 410.5 681.7 411.9 682.4 413.6C683.1 415.5 683.0 417.6 683.3 419.6" stroke="#000" stroke-width="1.9" />
<path d="M666.2 425.0L697.6 419.2L698.6 422.2L667.2 428.8Z" fill="#8a8a8a" stroke="none"/>
<path d="M666.2 424.8L697.6 419.3" stroke="#000" stroke-width="1.2" />
<path d="M697.6 419.8C698.8 421.2 700.4 422.3 701.2 424.0C702.0 425.7 702.1 427.7 702.0 429.6L701.6 440.0C701.5 441.7 701.0 443.5 700.0 444.8C697.7 447.8 694.1 449.7 692.0 452.8C690.0 455.7 688.9 459.1 688.0 462.4C687.4 464.5 687.1 466.7 687.6 468.8C687.9 470.2 689.1 471.3 690.4 472.0C691.8 472.8 693.6 473.0 695.2 472.8C696.7 472.6 697.7 470.8 699.2 470.8C700.2 470.8 701.3 471.8 701.6 472.8C702.3 475.1 702.1 477.6 702.0 480.0L701.6 491.3C701.5 493.0 701.0 494.8 700.0 496.1C697.7 499.1 694.1 501.0 692.0 504.1C690.0 507.0 688.9 510.4 688.0 513.7C687.4 515.8 687.1 518.0 687.6 520.1C687.9 521.5 689.1 522.6 690.4 523.3C691.8 524.1 693.6 524.3 695.2 524.1C696.7 523.9 697.7 522.1 699.2 522.1C700.2 522.1 701.3 523.1 701.6 524.1C702.3 526.4 702.1 528.9 702.0 531.3L701.6 542.6C701.5 544.3 701.0 546.1 700.0 547.4C697.7 550.4 694.1 552.3 692.0 555.4C690.0 558.3 688.9 561.7 688.0 565.0C687.4 567.1 687.1 569.3 687.6 571.4C687.9 572.8 689.1 573.9 690.4 574.6C691.8 575.4 693.6 575.6 695.2 575.4C696.7 575.2 697.7 573.4 699.2 573.4C700.2 573.4 701.3 574.4 701.6 575.4C702.3 577.7 702.1 580.2 702.0 582.6L701.6 593.9C701.5 595.6 701.0 597.4 700.0 598.7C697.7 601.7 694.1 603.6 692.0 606.7C690.0 609.6 688.9 613.0 688.0 616.3C687.4 618.4 687.1 620.6 687.6 622.7C687.9 624.1 689.1 625.2 690.4 625.9C691.8 626.7 693.6 626.9 695.2 626.7C696.7 626.5 697.7 624.7 699.2 624.7C700.2 624.7 701.3 625.7 701.6 626.7C702.3 629.0 702.0 631.5 702.0 633.9L702.0 641.9" stroke="#000" stroke-width="2.0" />
<path d="M689.6 471.4C691.2 471.7 692.8 472.4 694.5 472.3C696.1 472.2 697.5 471.2 699.0 470.6" stroke="#8a8a8a" stroke-width="2.6" />
<path d="M689.6 522.7C691.2 523.0 692.8 523.7 694.5 523.6C696.1 523.5 697.5 522.5 699.0 521.9" stroke="#8a8a8a" stroke-width="2.6" />
<path d="M689.6 574.0C691.2 574.3 692.8 575.0 694.5 574.9C696.1 574.8 697.5 573.8 699.0 573.2" stroke="#8a8a8a" stroke-width="2.6" />
<path d="M689.6 625.3C691.2 625.6 692.8 626.3 694.5 626.2C696.1 626.1 697.5 625.1 699.0 624.5" stroke="#8a8a8a" stroke-width="2.6" />
<path d="M687.0 634.0L693.0 634.0L714.0 646.0" stroke="#777" stroke-width="1.1" />
<path d="M687.0 657.0L704.0 648.0L712.0 647.0" stroke="#777" stroke-width="1.1" />
<path d="M688.0 636.0L708.0 652.0" stroke="#999" stroke-width="1.0" />
<path d="M683.0 699.0C681.7 696.0 679.6 693.2 679.0 690.0C678.4 686.7 678.9 683.3 679.5 680.0C679.9 678.1 681.1 676.4 682.0 674.7C683.3 672.1 684.5 669.5 686.0 667.0C687.7 664.2 689.7 661.6 691.8 659.0C693.7 656.6 695.7 654.1 698.0 652.0C700.1 650.1 702.4 648.3 705.0 647.0C707.2 645.9 709.6 645.2 712.0 645.0C714.0 644.8 716.6 644.6 718.0 646.0L720.5 648.5L843.4 813.4L803.8 862.9L801.6 860.7L683.0 699.0Z" stroke="#000" stroke-width="1.7" fill="#fff"/>
<path d="M683.0 699.0L801.6 860.7" stroke="#000" stroke-width="1.5" />
<path d="M685.0 697.6L803.5 859.2" stroke="#000" stroke-width="1.5" />
<path d="M685.0 698.0C684.0 695.0 682.4 692.1 682.0 689.0C681.6 686.0 681.9 682.9 682.5 680.0C683.1 677.2 684.2 674.5 685.5 672.0C687.0 669.0 688.9 666.2 691.0 663.5C693.1 660.8 695.5 658.3 698.0 656.0C700.5 653.8 703.1 651.7 706.0 650.0C708.5 648.5 711.3 647.7 714.0 646.5" stroke="#000" stroke-width="1.1" />
<path d="M841.4 813.2L803.4 859.6" stroke="#000" stroke-width="1.3" />
<path d="M688.5 815.6L776.4 864.0" stroke="#000" stroke-width="2.2" />
<path d="M688.5 817.5L784.0 869.5L803.8 862.9" stroke="#000" stroke-width="1.1" />
<path d="M776.4 864.0L801.6 860.7" stroke="#000" stroke-width="1.1" />
<path d="M790.0 846.5L776.8 863.5" stroke="#888" stroke-width="1.4" />
<path d="M792.2 849.2L780.2 865.0" stroke="#888" stroke-width="1.4" />
<path d="M701.6 724.0L701.6 749.7L730.0 767.0" stroke="#000" stroke-width="1.5" />
<path d="M701.6 749.7C699.1 751.5 696.0 752.6 694.0 755.0C691.9 757.6 690.5 760.8 689.6 764.0C688.6 767.6 688.9 771.3 688.5 775.0" stroke="#000" stroke-width="1.6" />
<path d="M690.7 776.0C694.0 776.0 697.4 775.0 700.5 776.0C703.5 776.9 706.5 778.8 708.0 781.5C709.0 783.4 708.0 786.1 707.0 788.0C706.1 789.6 704.1 790.3 702.7 791.4" stroke="#000" stroke-width="1.7" />
<path d="M690.0 776.3L700.0 777.0" stroke="#8a8a8a" stroke-width="2.6" />
<path d="M702.7 779.0C702.6 782.7 703.0 786.4 702.5 790.0C702.1 793.4 701.5 796.9 700.0 800.0C698.6 803.0 696.3 805.6 694.0 808.0C690.6 811.6 686.7 814.5 683.0 817.8" stroke="#000" stroke-width="1.5" />
<path d="M689.0 705.0C688.8 708.3 688.3 711.7 688.5 715.0C688.6 717.1 688.6 719.5 690.0 721.0C691.4 722.5 693.9 722.5 696.0 723.0C697.6 723.4 699.3 723.3 701.0 723.5" stroke="#111" stroke-width="1.7" />
<path d="M690.0 722.3L699.0 723.5" stroke="#8a8a8a" stroke-width="2.6" />
<path d="M701.6 723.0L701.6 730.0" stroke="#000" stroke-width="1.1" />
<path d="M712.6 664.8L721.4 671.4L720.3 684.6L708.2 693.4L697.3 683.5L701.6 669.2L712.6 664.8" stroke="#000" stroke-width="1.8" />
<ellipse cx="711.5" cy="678.2" rx="9.3" ry="10.6" stroke="#000" stroke-width="1.3" transform="rotate(25 711.5 678.2)"/>
<path d="M697.3 683.5L696.8 686.5L707.5 696.0L708.2 693.4" stroke="#000" stroke-width="1.1" />
<path d="M707.5 696.0L719.0 687.5L720.3 684.6" stroke="#000" stroke-width="1.1" />
<path d="M858.3 888.0L858.3 306.0C858.3 304.6 858.3 303.2 859.0 302.0C859.6 301.0 860.8 300.1 862.0 300.0L886.0 297.0L885.6 372.0" stroke="#000" stroke-width="2.7" />
<path d="M863.3 301.0L863.3 496.0" stroke="#000" stroke-width="2.2" />
<path d="M858.3 359.6L885.6 358.5" stroke="#000" stroke-width="2.2" />
<path d="M885.8 372.0L885.8 571.0" stroke="#000" stroke-width="3.6" />
<path d="M858.3 471.5L885.6 471.5" stroke="#000" stroke-width="2.2" />
<path d="M858.3 495.8L885.6 495.8" stroke="#000" stroke-width="2.2" />
<path d="M885.6 372.6L908.0 376.5C909.1 376.7 910.2 377.2 911.0 378.0C911.8 378.8 912.1 380.0 912.6 381.0" stroke="#000" stroke-width="2.7" />
<path d="M910.4 379.0L910.4 570.5" stroke="#000" stroke-width="4.4" />
<path d="M908.3 380.0L908.3 398.0" stroke="#888" stroke-width="1.4" />
<path d="M885.6 400.5L910.0 399.5" stroke="#000" stroke-width="3.0" stroke-linecap="butt"/>
<path d="M885.6 423.8L910.0 422.8" stroke="#000" stroke-width="5.0" stroke-linecap="butt"/>
<path d="M885.6 448.5L910.0 447.5" stroke="#000" stroke-width="5.0" stroke-linecap="butt"/>
<path d="M885.6 473.3L910.0 472.3" stroke="#000" stroke-width="4.2" stroke-linecap="butt"/>
<path d="M885.6 497.6L910.0 496.6" stroke="#000" stroke-width="4.2" stroke-linecap="butt"/>
<path d="M885.6 522.8L910.0 521.8" stroke="#000" stroke-width="4.2" stroke-linecap="butt"/>
<path d="M885.6 547.0L910.0 546.0" stroke="#000" stroke-width="3.4" stroke-linecap="butt"/>
<path d="M912.6 393.0L935.0 399.6C936.8 400.1 938.6 401.2 940.0 402.5C941.3 403.7 942.3 405.3 943.0 407.0C943.9 409.2 944.5 411.6 944.5 414.0L944.5 429.5C944.5 430.9 943.1 432.1 942.0 433.0C940.9 433.9 939.4 434.1 938.0 434.4C935.9 434.9 933.6 434.7 931.5 435.5C929.8 436.1 928.3 437.2 927.0 438.5C925.7 439.8 924.6 441.3 924.0 443.0C923.3 445.2 922.9 447.7 923.2 450.0C923.6 452.5 924.6 454.9 926.0 457.0C927.2 458.8 929.0 460.3 931.0 461.3C932.8 462.2 935.0 462.2 937.0 462.6C938.7 462.9 940.6 462.6 942.0 463.6C943.4 464.6 944.5 466.3 944.5 468.0L944.5 489.8C944.5 491.2 943.1 492.4 942.0 493.3C940.9 494.2 939.4 494.4 938.0 494.7C935.9 495.2 933.6 495.0 931.5 495.8C929.8 496.4 928.3 497.5 927.0 498.8C925.7 500.1 924.6 501.6 924.0 503.3C923.3 505.5 922.9 508.0 923.2 510.3C923.6 512.8 924.6 515.2 926.0 517.3C927.2 519.1 929.0 520.6 931.0 521.6C932.8 522.5 935.0 522.5 937.0 522.9C938.7 523.2 940.6 522.9 942.0 523.9C943.4 524.9 944.5 526.6 944.5 528.3L944.5 548.2C944.5 549.6 943.1 550.8 942.0 551.7C940.9 552.6 939.4 552.8 938.0 553.1C935.9 553.6 933.6 553.4 931.5 554.2C929.8 554.8 928.3 555.9 927.0 557.2C925.7 558.5 924.6 560.0 924.0 561.7C923.3 563.9 922.9 566.4 923.2 568.7C923.6 571.2 924.6 573.6 926.0 575.7C927.2 577.5 929.0 579.0 931.0 580.0C932.8 580.9 935.0 580.9 937.0 581.3C938.7 581.6 940.6 581.3 942.0 582.3C943.4 583.3 944.5 585.0 944.5 586.7L944.5 606.3C944.5 608.0 943.5 610.0 942.0 610.8C939.3 612.1 935.9 611.1 933.0 612.0C930.8 612.7 929.0 614.2 927.0 615.3" stroke="#000" stroke-width="3.4" />
<path d="M926.5 617.0L926.0 631.5C925.9 633.1 926.7 635.0 928.0 636.0C930.0 637.4 932.6 637.4 935.0 638.0C937.3 638.6 939.9 638.4 942.0 639.6C943.2 640.3 943.3 642.0 944.0 643.2" stroke="#000" stroke-width="3.2" />
<path d="M944.0 668.4C943.3 669.1 942.9 670.1 942.0 670.5C939.8 671.4 937.3 671.4 935.0 672.0C932.6 672.6 930.0 672.7 928.0 674.0C926.8 674.8 926.0 676.5 926.0 678.0L926.0 690.8C926.0 692.7 928.0 694.3 929.7 695.3C931.5 696.4 933.9 696.5 936.0 697.0C938.1 697.5 940.6 697.0 942.3 698.3C943.8 699.4 944.5 701.5 944.5 703.4L944.5 725.0C944.5 726.4 943.5 727.9 942.3 728.6C940.4 729.7 938.1 729.5 936.0 730.0C933.9 730.4 931.6 730.2 929.7 731.3C928.0 732.3 926.0 733.9 926.0 735.8L926.0 748.3C926.0 750.7 927.8 753.0 929.7 754.6C931.4 756.0 933.9 756.2 936.0 756.8C938.1 757.4 940.5 757.0 942.3 758.2C943.7 759.2 944.5 761.0 944.5 762.7L944.5 776.0C944.5 778.4 944.2 780.8 943.5 783.0C942.9 784.8 942.0 786.8 940.5 788.0C937.9 790.1 934.6 791.1 931.5 792.4C929.7 793.2 927.8 793.6 926.0 794.2" stroke="#000" stroke-width="3.2" />
<path d="M875.2 943.7L875.2 584.7C875.2 581.4 877.2 578.2 879.4 575.8C881.7 573.3 885.0 571.7 888.3 570.6C892.0 569.3 896.1 568.8 900.0 568.8C903.9 568.8 908.0 569.2 911.7 570.6C915.1 571.9 918.4 573.9 920.7 576.7C923.0 579.4 925.2 582.9 925.2 586.5L925.2 943.7L875.2 943.7" stroke="#000" stroke-width="2.7" />
<path d="M875.2 879.4L925.2 879.4" stroke="#000" stroke-width="2.7" />
<path d="M875.2 892.0L925.2 892.0" stroke="#000" stroke-width="2.7" />
<path d="M875.2 938.7L925.2 938.7" stroke="#000" stroke-width="2.0" />
<path d="M858.3 888.0C858.7 889.5 858.6 891.3 859.5 892.5C860.3 893.6 861.8 894.3 863.2 894.6C867.1 895.3 871.1 895.2 875.0 895.5" stroke="#000" stroke-width="2.4" />
<path d="M863.3 697.0L863.3 893.0" stroke="#000" stroke-width="2.0" />
<path d="M858.3 697.0L875.2 697.0" stroke="#000" stroke-width="2.4" />
<path d="M858.3 721.7L875.2 721.7" stroke="#000" stroke-width="2.4" />
<path d="M858.3 833.6L875.2 833.6" stroke="#000" stroke-width="2.4" />
<path d="M900.4 579.8L913.8 588.6L913.8 605.0L900.4 612.8L887.8 605.0L887.8 588.6Z" fill="#000" stroke="#000" stroke-width="0.8"/>
<ellipse cx="900.3" cy="597" rx="9.0" ry="10.2" fill="#fff" stroke="none"/>
<path d="M926.0 794.5L938.7 793.0L938.7 809.5L928.0 810.5" stroke="#000" stroke-width="2.0" />
<path d="M933.3 794.0L933.3 810.0" stroke="#000" stroke-width="1.4" />
<path d="M928.0 813.0L935.0 813.0L935.0 821.0L928.0 821.0" stroke="#000" stroke-width="1.8" />
<path d="M927.0 823.0L934.0 823.0" stroke="#000" stroke-width="1.5" />
<path d="M927.0 825.5L934.0 825.5" stroke="#000" stroke-width="1.5" />
<path d="M927.0 828.0L934.0 828.0" stroke="#000" stroke-width="1.5" />
<path d="M926.0 830.8L935.0 830.8L935.0 843.4L929.7 847.5" stroke="#000" stroke-width="1.8" />
<path d="M926.0 848.0L931.5 848.0L929.7 853.3L926.0 856.5" stroke="#000" stroke-width="1.5" />
</svg>
</body></html>
